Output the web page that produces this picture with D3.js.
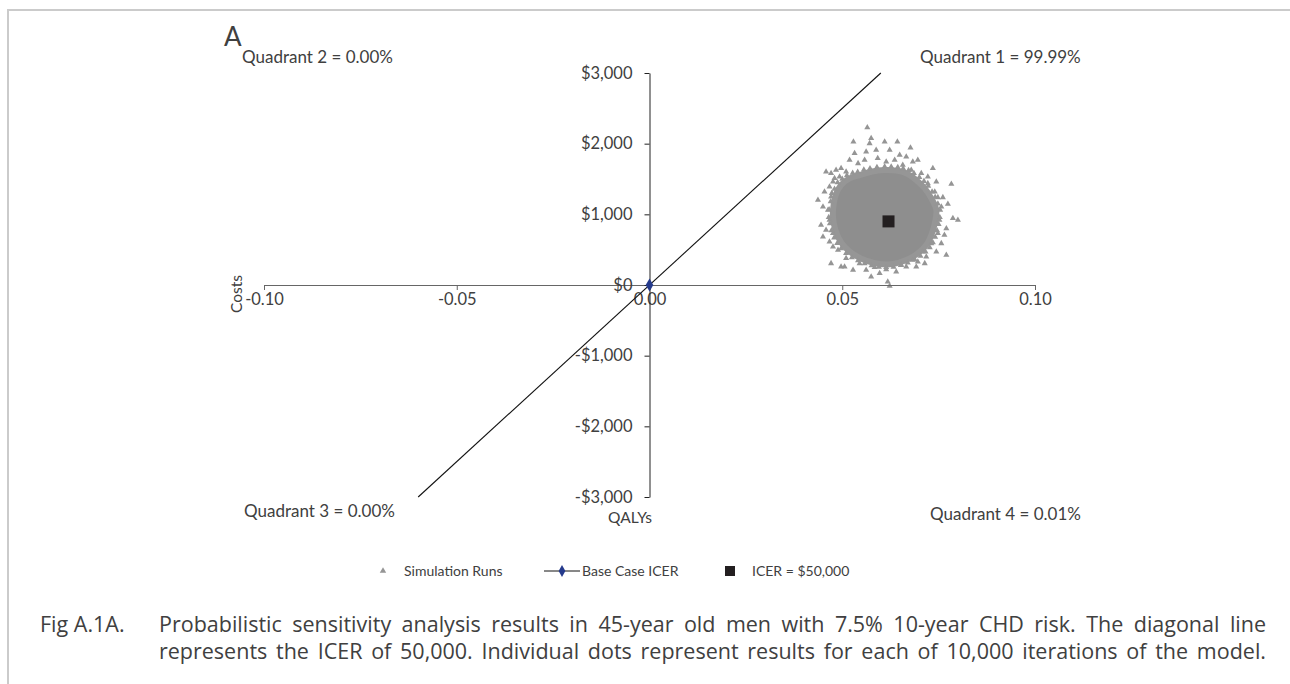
<!DOCTYPE html>
<html lang="en">
<head>
  <meta charset="UTF-8">
  <title>Probabilistic sensitivity analysis</title>
  <script src="https://d3js.org/d3.v7.min.js"></script>
  <style>
    body { margin: 0; background: #fff; font-family: Lato, "Open Sans", sans-serif; }
    svg text { fill: #404040; }
  </style>
</head>
<body>
<svg width="1290" height="684"></svg>
<script>
  // tick values
  const xTicks = [-0.10, -0.05, 0.00, 0.05, 0.10];
  const yTicks = [-3000, -2000, -1000, 0, 1000, 2000, 3000];

  // ICER threshold line (QALY, cost) and markers
  const icerLine = [[-0.06, -3000], [0.06, 3000]];
  const baseCase = [0, 0];
  const icerPoint = [0.062, 900];

  // dense core of the simulation cloud (outline, QALY / cost)
  const cloudCore = [
    [0.0476, 1061], [0.0483, 1273], [0.0497, 1415], [0.0519, 1509], [0.0545, 1556],
    [0.0575, 1603], [0.0610, 1627], [0.0640, 1618], [0.0666, 1580], [0.0692, 1485],
    [0.0714, 1368], [0.0731, 1226], [0.0744, 1061], [0.0740, 872], [0.0731, 707],
    [0.0718, 566], [0.0696, 448], [0.0666, 353], [0.0632, 297], [0.0597, 297],
    [0.0562, 344], [0.0532, 424], [0.0506, 542], [0.0489, 684], [0.0478, 872]
  ];

  // scattered simulation runs around the core
  const simRuns = [
    [0.0565, 2230], [0.0529, 2028], [0.0571, 2004], [0.0575, 2075], [0.0610, 2028],
    [0.0643, 2028], [0.0677, 1943], [0.0532, 1863], [0.0562, 1886], [0.0588, 1910],
    [0.0623, 1910], [0.0649, 1839], [0.0666, 1816], [0.0696, 1768], [0.0683, 1745],
    [0.0519, 1768], [0.0497, 1651], [0.0484, 1627], [0.0458, 1603], [0.0471, 1580],
    [0.0480, 1509], [0.0454, 1320], [0.0467, 1391], [0.0476, 1462], [0.0735, 1651],
    [0.0722, 1533], [0.0744, 1462], [0.0783, 1429], [0.0748, 1240], [0.0761, 1240],
    [0.0774, 1146], [0.0787, 943], [0.0800, 920], [0.0770, 801], [0.0765, 707],
    [0.0757, 589], [0.0770, 424], [0.0744, 471], [0.0437, 1202], [0.0450, 1108],
    [0.0445, 849], [0.0458, 778], [0.0450, 684], [0.0467, 613], [0.0476, 542],
    [0.0471, 306], [0.0497, 259], [0.0506, 259], [0.0528, 212], [0.0562, 212],
    [0.0575, 118], [0.0597, 165], [0.0618, 47], [0.0623, -14], [0.0640, 188],
    [0.0666, 259], [0.0696, 330], [0.0714, 306], [0.0718, 400], [0.0692, 259],
    [0.0541, 1721], [0.0558, 1768], [0.0592, 1792], [0.0614, 1745], [0.0636, 1768],
    [0.0657, 1698], [0.0679, 1627], [0.0510, 1603], [0.0493, 1533], [0.0471, 1250],
    [0.0463, 1061], [0.0467, 919], [0.0476, 731], [0.0489, 495], [0.0510, 377],
    [0.0545, 306], [0.0584, 250], [0.0614, 221], [0.0653, 283], [0.0683, 353],
    [0.0709, 471], [0.0731, 589], [0.0748, 731], [0.0752, 920], [0.0757, 1108],
    [0.0740, 1320], [0.0722, 1438], [0.0705, 1580],
    // dense ring just outside the core
    [0.0466, 1070], [0.0473, 1300], [0.0488, 1450], [0.0512, 1550], [0.0540, 1600],
    [0.0572, 1650], [0.0610, 1675], [0.0644, 1665], [0.0672, 1625], [0.0700, 1525],
    [0.0723, 1400], [0.0741, 1245], [0.0754, 1060], [0.0750, 860], [0.0741, 680],
    [0.0727, 530], [0.0703, 410], [0.0670, 315], [0.0633, 255], [0.0595, 255],
    [0.0558, 305], [0.0525, 390], [0.0497, 515], [0.0479, 670], [0.0468, 870],
    [0.0470, 1180], [0.0480, 1360], [0.0500, 1500], [0.0527, 1585], [0.0556, 1630],
    [0.0590, 1665], [0.0627, 1672], [0.0658, 1650], [0.0686, 1580], [0.0712, 1470],
    [0.0733, 1320], [0.0748, 1150], [0.0753, 960], [0.0746, 770], [0.0735, 600],
    [0.0716, 470], [0.0688, 360], [0.0652, 280], [0.0614, 250], [0.0576, 275],
    [0.0541, 345], [0.0510, 450], [0.0487, 590], [0.0472, 770], [0.0465, 960]
  ];

  const quadrantLabels = ["Quadrant 1 = 99.99%", "Quadrant 2 = 0.00%", "Quadrant 3 = 0.00%", "Quadrant 4 = 0.01%"];
  const legendLabels = ["Simulation Runs", "Base Case ICER", "ICER = $50,000"];
  const captionLines = [
    "Probabilistic sensitivity analysis results in 45-year old men with 7.5% 10-year CHD risk. The diagonal line",
    "represents the ICER of 50,000. Individual dots represent results for each of 10,000 iterations of the model."
  ];

  const svg = d3.select("svg");

  // frame
  svg.append("path")
    .attr("d", "M8,684V10H1290")
    .attr("fill", "none")
    .attr("stroke", "#cbcbcb")
    .attr("stroke-width", 2);

  const x = d3.scaleLinear().domain([-0.1, 0.1]).range([264, 1035]);
  const y = d3.scaleLinear().domain([-3000, 3000]).range([497, 73]);

  const fmtCost = d => (d < 0 ? "-$" : "$") + d3.format(",")(Math.abs(d));
  const fmtQaly = d => (d < 0 ? "-" : "") + d3.format(".2f")(Math.abs(d));

  // cloud
  svg.append("path")
    .datum(cloudCore)
    .attr("d", d3.line().x(d => x(d[0])).y(d => y(d[1])).curve(d3.curveCatmullRomClosed))
    .attr("fill", "#8e8e8e")
    .attr("stroke", "#969696")
    .attr("stroke-width", 6);

  const tri = d3.symbol().type(d3.symbolTriangle).size(16);
  svg.append("g").selectAll("path")
    .data(simRuns)
    .join("path")
    .attr("d", tri)
    .attr("transform", d => `translate(${x(d[0])},${y(d[1])})`)
    .attr("fill", "#959595");

  // axes
  const xAxis = svg.append("g")
    .attr("transform", `translate(0,${y(0)})`)
    .call(d3.axisBottom(x).tickValues(xTicks).tickFormat(fmtQaly).tickSizeInner(5).tickSizeOuter(0));
  xAxis.select(".domain").attr("stroke", "#666");
  xAxis.selectAll(".tick line").attr("stroke", "#666");
  xAxis.selectAll("text").attr("font-size", 16.5).attr("font-family", "Lato").attr("fill", "#404040");

  const yAxis = svg.append("g")
    .attr("transform", `translate(${x(0)},0)`)
    .call(d3.axisLeft(y).tickValues(yTicks).tickFormat(fmtCost).tickSizeInner(5).tickSizeOuter(0).tickPadding(12));
  yAxis.select(".domain").attr("stroke", "#222");
  yAxis.selectAll(".tick line").attr("stroke", "#222");
  yAxis.selectAll("text").attr("font-size", 16.5).attr("font-family", "Lato").attr("fill", "#404040");

  // ICER line
  svg.append("line")
    .attr("x1", x(icerLine[0][0])).attr("y1", y(icerLine[0][1]))
    .attr("x2", x(icerLine[1][0])).attr("y2", y(icerLine[1][1]))
    .attr("stroke", "#111").attr("stroke-width", 1.1);

  // base case diamond
  svg.append("path")
    .attr("d", d3.symbol().type(d3.symbolDiamond).size(50))
    .attr("transform", `translate(${x(baseCase[0])},${y(baseCase[1])})`)
    .attr("fill", "#253a8c");

  // ICER point
  svg.append("rect")
    .attr("x", x(icerPoint[0]) - 6).attr("y", y(icerPoint[1]) - 6)
    .attr("width", 12).attr("height", 12)
    .attr("fill", "#231f20");

  // labels
  svg.append("text").attr("x", 224).attr("y", 46).attr("font-size", 26).attr("fill", "#222").text("A");

  const quadPos = [[920, 63], [242, 63], [244, 517], [930, 520]];
  quadrantLabels.forEach((t, i) => {
    svg.append("text").attr("x", quadPos[i][0]).attr("y", quadPos[i][1])
      .attr("font-size", 17).text(t);
  });

  svg.append("text").attr("x", 630).attr("y", 523).attr("text-anchor", "middle")
    .attr("font-size", 15.5).text("QALYs");
  svg.append("text").attr("transform", "translate(242,294) rotate(-90)").attr("text-anchor", "middle")
    .attr("font-size", 15.5).text("Costs");

  // legend
  const lg = svg.append("g").attr("font-size", 14);
  lg.append("path").attr("d", d3.symbol().type(d3.symbolTriangle).size(18))
    .attr("transform", "translate(383,571)").attr("fill", "#959595");
  lg.append("text").attr("x", 404).attr("y", 576).text(legendLabels[0]);
  lg.append("line").attr("x1", 544).attr("x2", 580).attr("y1", 571).attr("y2", 571).attr("stroke", "#111");
  lg.append("path").attr("d", d3.symbol().type(d3.symbolDiamond).size(40))
    .attr("transform", "translate(562,571)").attr("fill", "#253a8c");
  lg.append("text").attr("x", 582).attr("y", 576).text(legendLabels[1]);
  lg.append("rect").attr("x", 725).attr("y", 566).attr("width", 10).attr("height", 10).attr("fill", "#231f20");
  lg.append("text").attr("x", 752).attr("y", 576).text(legendLabels[2]);

  // caption with hanging indent, justified by widening word gaps
  const cap = svg.append("g").attr("font-size", 21.5).attr("font-family", "'Open Sans', sans-serif");
  cap.append("text").attr("x", 40).attr("y", 632).attr("fill", "#1a1a1a").text("Fig A.1A.");
  const indent = 159, right = 1266;
  captionLines.forEach((t, i) => {
    const el = cap.append("text").attr("x", indent).attr("y", 632 + i * 27).attr("fill", "#1a1a1a").text(t);
    const w = el.node().getComputedTextLength();
    const gaps = t.split(" ").length - 1;
    const ws = (right - indent - w) / gaps;
    if (ws >= 0) el.attr("word-spacing", ws);
    else el.attr("textLength", right - indent).attr("lengthAdjust", "spacingAndGlyphs");
  });
</script>
</body>
</html>
